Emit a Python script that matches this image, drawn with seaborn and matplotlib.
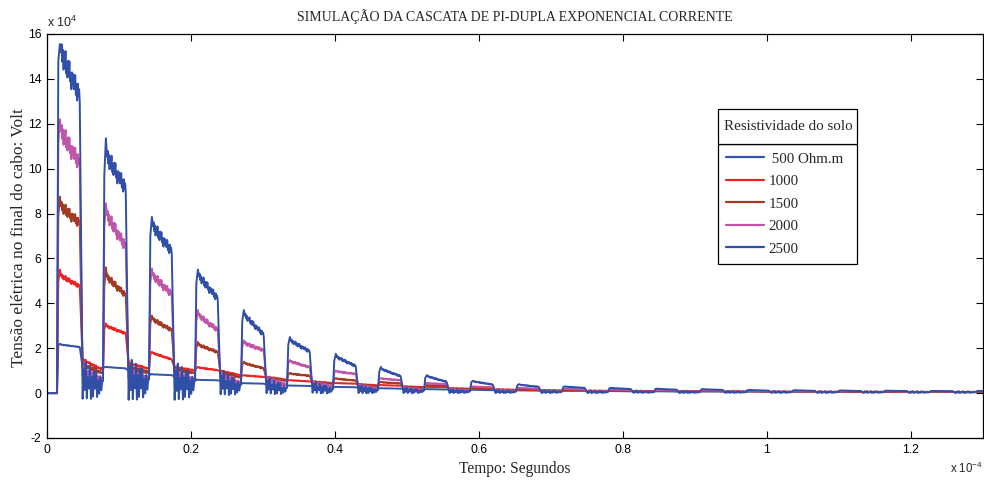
import numpy as np
import pandas as pd
import matplotlib
matplotlib.use("Agg")
import matplotlib.pyplot as plt
from matplotlib.patches import Rectangle
import seaborn as sns

# ---------------------------------------------------------------------------
# Pulse train timing (time axis in units of 1e-4 s)
# ---------------------------------------------------------------------------
pulse_start = [0.0139, 0.0778, 0.1417, 0.2056, 0.2694, 0.3333, 0.3972,
               0.4597, 0.5236, 0.5875, 0.6514, 0.7153, 0.7792, 0.8431,
               0.9069, 0.9708, 1.0347, 1.0986, 1.1625, 1.2264, 1.2903]
pulse_width = 0.0326

# ---------------------------------------------------------------------------
# Voltage levels per pulse (units of 1e4 V): overshoot peak, top at start,
# top at end, level right after the fall, level before the next rise,
# and the ringing amplitude in between pulses.
# ---------------------------------------------------------------------------
# 500 Ohm.m
peak_500 = [2.2, 1.17, 0.85, 0.6, 0.45, 0.34, 0.28, 0.22, 0.18, 0.15, 0.12,
            0.1, 0.09, 0.08, 0.07, 0.07, 0.06, 0.06, 0.05, 0.05, 0.05]
start_500 = [2.12, 1.15, 0.82, 0.58, 0.43, 0.33, 0.27, 0.21, 0.17, 0.14, 0.12,
             0.1, 0.09, 0.08, 0.07, 0.06, 0.06, 0.05, 0.05, 0.05, 0.05]
end_500 = [2.05, 1.1, 0.8, 0.57, 0.42, 0.32, 0.26, 0.2, 0.16, 0.13, 0.11,
           0.1, 0.08, 0.07, 0.07, 0.06, 0.06, 0.05, 0.05, 0.05, 0.05]
after_500 = [1.15, 1.0, 0.75, 0.55, 0.4, 0.31, 0.25, 0.2, 0.16, 0.13, 0.11,
             0.09, 0.08, 0.07, 0.06, 0.06, 0.05, 0.05, 0.05, 0.05, 0.05]
before_500 = [1.12, 0.9, 0.65, 0.5, 0.37, 0.28, 0.23, 0.18, 0.15, 0.12, 0.1,
              0.09, 0.08, 0.07, 0.06, 0.05, 0.05, 0.05, 0.05, 0.05, 0.05]
ring_500 = [0.02, 0.02, 0.02, 0.015, 0.015, 0.01, 0.01, 0.01, 0.01, 0.01, 0.01,
            0.01, 0.01, 0.01, 0.01, 0.01, 0.01, 0.01, 0.01, 0.01, 0.01]

# 1000 Ohm.m
peak_1000 = [5.5, 3.1, 1.84, 1.17, 0.8, 0.58, 0.45, 0.36, 0.28, 0.2, 0.16,
             0.14, 0.12, 0.1, 0.09, 0.08, 0.08, 0.07, 0.07, 0.06, 0.06]
start_1000 = [4.95, 2.85, 1.72, 1.1, 0.77, 0.56, 0.44, 0.35, 0.27, 0.19, 0.15,
              0.13, 0.11, 0.1, 0.09, 0.08, 0.07, 0.07, 0.06, 0.06, 0.06]
end_1000 = [4.75, 2.65, 1.5, 1.02, 0.72, 0.52, 0.42, 0.33, 0.26, 0.18, 0.14,
            0.12, 0.1, 0.09, 0.08, 0.07, 0.07, 0.06, 0.06, 0.06, 0.06]
after_1000 = [1.5, 1.35, 1.17, 1.0, 0.73, 0.52, 0.4, 0.3, 0.22, 0.17, 0.13,
              0.11, 0.1, 0.09, 0.08, 0.07, 0.06, 0.06, 0.06, 0.05, 0.05]
before_1000 = [1.05, 1.1, 1.02, 0.8, 0.6, 0.45, 0.35, 0.27, 0.2, 0.15, 0.12,
               0.1, 0.09, 0.08, 0.07, 0.06, 0.06, 0.06, 0.05, 0.05, 0.05]
ring_1000 = [0.07, 0.06, 0.05, 0.04, 0.03, 0.03, 0.02, 0.02, 0.02, 0.02, 0.02,
             0.02, 0.02, 0.02, 0.02, 0.02, 0.02, 0.02, 0.02, 0.02, 0.02]

# 1500 Ohm.m
peak_1500 = [8.75, 5.6, 3.45, 2.28, 1.4, 0.9, 0.67, 0.5, 0.36, 0.24, 0.2,
             0.17, 0.14, 0.12, 0.11, 0.1, 0.09, 0.08, 0.08, 0.07, 0.07]
start_1500 = [7.9, 4.75, 3.1, 2.0, 1.25, 0.82, 0.6, 0.46, 0.34, 0.22, 0.18,
              0.15, 0.13, 0.11, 0.1, 0.09, 0.08, 0.08, 0.07, 0.07, 0.07]
end_1500 = [7.55, 4.35, 2.8, 1.82, 1.1, 0.77, 0.56, 0.43, 0.32, 0.2, 0.17,
            0.14, 0.12, 0.1, 0.09, 0.08, 0.08, 0.07, 0.07, 0.06, 0.06]
after_1500 = [1.3, 1.2, 1.1, 0.95, 0.7, 0.5, 0.38, 0.28, 0.2, 0.16, 0.12,
              0.1, 0.09, 0.08, 0.07, 0.06, 0.06, 0.06, 0.05, 0.05, 0.05]
before_1500 = [0.9, 0.95, 0.9, 0.7, 0.55, 0.42, 0.3, 0.23, 0.17, 0.13, 0.1,
               0.09, 0.08, 0.07, 0.06, 0.06, 0.05, 0.05, 0.05, 0.05, 0.05]
ring_1500 = [0.14, 0.13, 0.11, 0.08, 0.06, 0.05, 0.04, 0.03, 0.03, 0.03, 0.03,
             0.03, 0.03, 0.03, 0.03, 0.03, 0.03, 0.03, 0.03, 0.03, 0.03]

# 2000 Ohm.m
peak_2000 = [12.2, 8.45, 5.55, 3.7, 2.35, 1.47, 1.0, 0.67, 0.45, 0.3, 0.24,
             0.2, 0.16, 0.14, 0.13, 0.11, 0.1, 0.09, 0.09, 0.08, 0.08]
start_2000 = [11.1, 7.4, 4.9, 3.2, 2.08, 1.33, 0.92, 0.62, 0.42, 0.28, 0.22,
              0.18, 0.15, 0.13, 0.12, 0.1, 0.09, 0.08, 0.08, 0.07, 0.07]
end_2000 = [10.2, 6.5, 4.4, 2.8, 1.9, 1.15, 0.85, 0.57, 0.4, 0.26, 0.2,
            0.16, 0.14, 0.12, 0.11, 0.09, 0.08, 0.08, 0.07, 0.07, 0.07]
after_2000 = [1.1, 1.0, 0.95, 0.85, 0.65, 0.48, 0.35, 0.25, 0.18, 0.14, 0.11,
              0.09, 0.08, 0.07, 0.06, 0.06, 0.06, 0.05, 0.05, 0.05, 0.05]
before_2000 = [0.6, 0.65, 0.6, 0.45, 0.38, 0.3, 0.22, 0.16, 0.12, 0.1, 0.08,
               0.07, 0.06, 0.06, 0.05, 0.05, 0.05, 0.05, 0.05, 0.05, 0.05]
ring_2000 = [0.32, 0.32, 0.28, 0.22, 0.16, 0.1, 0.07, 0.05, 0.04, 0.03, 0.03,
             0.03, 0.03, 0.03, 0.03, 0.03, 0.03, 0.03, 0.03, 0.03, 0.03]

# 2500 Ohm.m
peak_2500 = [15.55, 11.35, 7.85, 5.5, 3.7, 2.5, 1.75, 1.17, 0.8, 0.55, 0.4,
             0.3, 0.24, 0.2, 0.18, 0.14, 0.13, 0.12, 0.11, 0.1, 0.1]
start_2500 = [14.8, 9.7, 7.0, 4.9, 3.2, 2.15, 1.45, 0.95, 0.68, 0.48, 0.34,
              0.27, 0.21, 0.18, 0.16, 0.13, 0.12, 0.11, 0.1, 0.09, 0.09]
end_2500 = [13.2, 9.1, 6.3, 4.2, 2.6, 1.85, 1.2, 0.75, 0.5, 0.38, 0.28,
            0.23, 0.18, 0.15, 0.14, 0.11, 0.1, 0.09, 0.09, 0.08, 0.08]
after_2500 = [0.7, 0.75, 0.65, 0.55, 0.4, 0.3, 0.2, 0.14, 0.1, 0.08, 0.07,
              0.06, 0.06, 0.05, 0.05, 0.05, 0.05, 0.05, 0.05, 0.05, 0.05]
before_2500 = [0.35, 0.4, 0.35, 0.25, 0.15, 0.12, 0.1, 0.08, 0.06, 0.05, 0.05,
               0.04, 0.04, 0.04, 0.04, 0.04, 0.04, 0.04, 0.04, 0.04, 0.04]
ring_2500 = [0.95, 1.05, 0.95, 0.6, 0.4, 0.28, 0.2, 0.14, 0.1, 0.08, 0.07,
             0.06, 0.05, 0.05, 0.04, 0.04, 0.04, 0.03, 0.03, 0.03, 0.03]

# Ripple on the pulse tops and ringing shape between pulses (relative units)
top_ripple = [0.0, 0.8, -0.5, 0.6, -0.9, 0.4, -0.2, 1.0, -0.7, 0.3, -0.8,
              0.7, -0.4, 0.9, -0.6, 0.2, -1.0, 0.5, -0.3, 0.6, -0.5, 0.1,
              0.9, -0.6, 0.4, -0.8, 0.7, -0.2, 0.5, -0.4]
gap_ringing = [-1.0, 0.4, -0.55, 0.75, -0.9, 0.1, -0.4, 0.65, -0.85, 0.2,
               -0.7, 0.5, -0.3, 0.55, -0.65, 0.15, -0.45, 0.35, -0.25, 0.2]

labels = ["500 Ohm.m", "1000", "1500", "2000", "2500"]
colors = ["#3553a8", "#ee2222", "#a33a22", "#c055aa", "#3050a8"]
ripple_frac = [0.006, 0.02, 0.03, 0.035, 0.035]

levels = {
    "500 Ohm.m": (peak_500, start_500, end_500, after_500, before_500, ring_500),
    "1000": (peak_1000, start_1000, end_1000, after_1000, before_1000, ring_1000),
    "1500": (peak_1500, start_1500, end_1500, after_1500, before_1500, ring_1500),
    "2000": (peak_2000, start_2000, end_2000, after_2000, before_2000, ring_2000),
    "2500": (peak_2500, start_2500, end_2500, after_2500, before_2500, ring_2500),
}


def build_trace(peak, start, end, after, before, ring, frac):
    """Vertex list of one voltage trace: rise, overshoot, rippled top, fall, ringing."""
    t, v = [0.0], [0.0]
    prev = 0.0
    n = len(pulse_start)
    rip = np.array(top_ripple)
    rng_shape = np.array(gap_ringing)
    for k, t0 in enumerate(pulse_start):
        t += [t0, t0 + 0.0018, t0 + 0.004]
        v += [prev, start[k], peak[k]]
        top_t = np.linspace(t0 + 0.0055, t0 + pulse_width - 0.001, len(rip))
        top_v = (np.linspace(0.5 * (start[k] + peak[k]), end[k], len(rip))
                 + rip * frac * peak[k])
        t += list(top_t)
        v += list(top_v)
        t_next = pulse_start[k + 1] if k + 1 < n else 1.34
        gap_t = np.linspace(t0 + pulse_width + 0.003, t_next - 0.001, len(rng_shape))
        gap_v = np.linspace(after[k], before[k], len(rng_shape)) + rng_shape * ring[k]
        t += list(gap_t)
        v += list(gap_v)
        prev = gap_v[-1]
    return np.array(t), np.array(v)


frames = []
for lab, frac in zip(labels, ripple_frac):
    tt, vv = build_trace(*levels[lab], frac)
    frames.append(pd.DataFrame({"tempo": tt, "tensao": vv, "serie": lab}))
df = pd.concat(frames, ignore_index=True)

# ---------------------------------------------------------------------------
# Figure
# ---------------------------------------------------------------------------
sns.set_style("white")
plt.rcParams["font.family"] = ["Liberation Serif", "DejaVu Serif"]
plt.rcParams["mathtext.fontset"] = "custom"
plt.rcParams["mathtext.rm"] = "Liberation Sans"
plt.rcParams["mathtext.it"] = "Liberation Sans"

W, H = 984, 483
fig = plt.figure(figsize=(W / 100, H / 100), dpi=100)
fig.patch.set_facecolor("white")
ax = fig.add_axes([47 / W, (H - 438) / H, 936 / W, 404 / H])

sns.lineplot(data=df, x="tempo", y="tensao", hue="serie", hue_order=labels,
             palette=colors, estimator=None, sort=False, linewidth=1.4,
             legend=False, ax=ax)

ax.set_xlim(0, 1.3)
ax.set_ylim(-2, 16)
ax.set_xticks([0, 0.2, 0.4, 0.6, 0.8, 1.0, 1.2])
ax.set_xticklabels(["0", "0.2", "0.4", "0.6", "0.8", "1", "1.2"])
ax.set_yticks(range(-2, 17, 2))
ax.set_yticklabels([str(v) for v in range(-2, 17, 2)])
for lab in ax.get_xticklabels() + ax.get_yticklabels():
    lab.set_fontfamily("Liberation Sans")
    lab.set_fontsize(8.8)
ax.tick_params(direction="in", length=5, width=0.8, top=True, right=True,
               bottom=True, left=True, pad=4, colors="black")
for sp in ax.spines.values():
    sp.set_visible(True)
    sp.set_color("black")
    sp.set_linewidth(0.9)

ax.set_title("SIMULAÇÃO DA CASCATA DE PI-DUPLA EXPONENCIAL CORRENTE",
             fontsize=10, pad=9)
ax.set_xlabel("Tempo: Segundos", fontsize=11.2, labelpad=4)
ax.set_ylabel("Tensão elétrica no final do cabo: Volt", fontsize=12.5)
ax.yaxis.set_label_coords(-(47 - 27) / 936, (438 - 238) / 404)

# axis multipliers
fig.text(47 / W, 1 - 27 / H, r"x 10$^{4}$", fontsize=9, va="baseline",
         family="Liberation Sans")
fig.text(950 / W, 1 - 473 / H, r"x 10$^{-4}$", fontsize=8.3, va="baseline",
         family="Liberation Sans")

# legend with a boxed heading
handles = [plt.Line2D([], [], color=c, lw=1.6) for c in colors]
leg = ax.legend(handles, [" 500 Ohm.m", "1000", "1500", "2000", "2500"],
                loc="upper left",
                bbox_to_anchor=(718 / W, 1 - 262 / H, 139 / W, 118 / H),
                bbox_transform=fig.transFigure, mode="expand",
                frameon=True, fancybox=False, framealpha=1, edgecolor="black",
                fontsize=10.8, handlelength=2.5, handletextpad=0.3,
                borderpad=0.55, labelspacing=0.6, borderaxespad=0)
leg.get_frame().set_linewidth(0.9)
fig.patches.append(Rectangle((718 / W, 1 - 144 / H), 139 / W, 35 / H,
                             transform=fig.transFigure, fill=True,
                             facecolor="white", edgecolor="black", lw=0.9))
fig.text(724 / W, 1 - 127 / H, "Resistividade do solo", fontsize=10.8,
         va="center", ha="left")

fig.savefig("out.png", dpi=100)
